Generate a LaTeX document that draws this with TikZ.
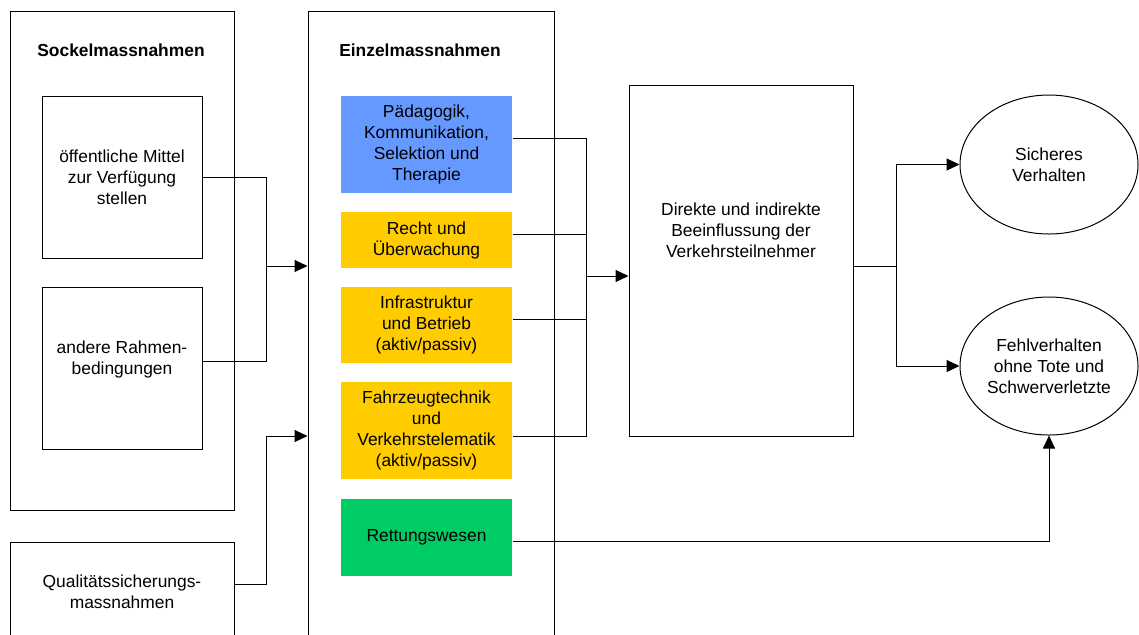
\documentclass[tikz,border=0pt]{standalone}
\usepackage{fontspec}
\setmainfont{Liberation Sans}
\usetikzlibrary{shapes.geometric,arrows.meta}
\definecolor{paedblau}{HTML}{6699FF}
\definecolor{gelb}{HTML}{FFCC00}
\definecolor{gruen}{HTML}{00CC66}
\tikzset{
  box/.style={draw, inner sep=0pt, align=center},
  massbox/.style={inner sep=0pt, minimum width=85.5pt, align=center},
  titel/.style={font=\fontsize{8.7}{10.5}\selectfont\bfseries},
  txt/.style={align=center}
}
\begin{document}
\begin{tikzpicture}[x=0.5pt,y=-0.5pt, line width=0.5pt, >={Triangle[length=6.5pt,width=6pt]}, font=\fontsize{8.7}{10.5}\selectfont]
\useasboundingbox (0,0) rectangle (1139,634);
\clip (0,0) rectangle (1139,634);
% Sockelmassnahmen
\node [box, minimum width=112pt, minimum height=249.5pt] (sockel) at (122,260.5) {};
\node [titel] (sockeltitel) at (121,50) {Sockelmassnahmen};
\node [box, minimum width=80pt, minimum height=81pt] (mittel) at (122,177) {öffentliche Mittel\\zur Verfügung\\stellen};
\node [box, minimum width=80pt, minimum height=81pt] (rahmen) at (122,368) {};
\node [txt] (rahmentext) at (122,359) {andere Rahmen-\\bedingungen};
\node [box, minimum width=112pt, minimum height=59pt] (qs) at (122,601) {};
\node [txt] (qstext) at (122,592) {Qualitätssicherungs-\\massnahmen};
% Einzelmassnahmen
\node [box, minimum width=123pt, minimum height=324.5pt] (einzel) at (431,335.5) {};
\node [titel] (einzeltitel) at (420,50) {Einzelmassnahmen};
\node [massbox, fill=paedblau, minimum height=48.5pt] (paed) at (426.5,144.5) {Pädagogik,\\Kommunikation,\\Selektion und\\Therapie};
\node [massbox, fill=gelb, minimum height=28pt] (recht) at (426.5,240) {Recht und\\Überwachung};
\node [massbox, fill=gelb, minimum height=38pt] (infra) at (426.5,325) {Infrastruktur\\und Betrieb\\(aktiv/passiv)};
\node [massbox, fill=gelb, minimum height=48.5pt] (fahrzeug) at (426.5,430.5) {Fahrzeugtechnik\\und\\Verkehrstelematik\\(aktiv/passiv)};
\node [massbox, fill=gruen, minimum height=38.5pt] (rettung) at (426.5,537.5) {Rettungswesen};
% Beeinflussung und Folgen
\node [box, minimum width=112pt, minimum height=175.5pt] (beein) at (741,260.5) {};
\node [txt] (beeintext) at (741,230) {Direkte und indirekte\\Beeinflussung der\\Verkehrsteilnehmer};
\node [box, ellipse, minimum width=89pt, minimum height=69.5pt] (sicher) at (1049,164.5) {Sicheres\\Verhalten};
\node [box, ellipse, minimum width=89pt, minimum height=69pt] (fehl) at (1049,366) {Fehlverhalten\\ohne Tote und\\Schwerverletzte};
\coordinate (jl) at (266,266);
\coordinate (jq) at (266,436);
\coordinate (jm) at (586,276);
\coordinate (jr) at (896,266);
\draw (mittel.east) -| (jl);
\draw ([yshift=3.5pt]rahmen.east) -| (jl);
\draw [->] (jl) -- (jl -| einzel.west);
\draw ([yshift=8.5pt]qs.east) -| (jq);
\draw [->] (jq) -- (jq -| einzel.west);
\draw ([yshift=3.25pt]paed.east) -| (jm);
\draw ([yshift=3pt]recht.east) -| (jm);
\draw ([yshift=3pt]infra.east) -| (jm);
\draw ([yshift=-2.75pt]fahrzeug.east) -| (jm);
\draw [->] (jm) -- (jm -| beein.west);
\draw ([yshift=-2.75pt]beein.east) -- (jr);
\draw [->] (jr) |- (sicher.west);
\draw [->] (jr) |- (fehl.west);
\draw [->] ([yshift=-1.75pt]rettung.east) -| (fehl.south);
\end{tikzpicture}
\end{document}
